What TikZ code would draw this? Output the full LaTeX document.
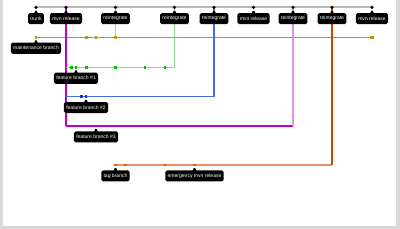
\documentclass[tikz,border=0pt]{standalone}
\usepackage{fontspec}
\setsansfont{Liberation Sans}
\usetikzlibrary{positioning, shapes.callouts}

\pgfdeclarelayer{bg}
\pgfsetlayers{bg,main}

\definecolor{maintcol}{RGB}{185,150,10}
\definecolor{tancol}{RGB}{215,195,140}
\definecolor{greencol}{RGB}{140,215,140}
\definecolor{greendot}{RGB}{0,190,0}
\definecolor{bluecol}{RGB}{70,110,225}
\definecolor{bluedot}{RGB}{30,50,200}
\definecolor{magcol}{RGB}{190,0,200}
\definecolor{pinkcol}{RGB}{215,150,220}
\definecolor{orangedark}{RGB}{200,70,0}
\definecolor{orangelight}{RGB}{225,145,100}
\definecolor{orangedot}{RGB}{210,100,20}

\begin{document}
\begin{tikzpicture}[
    x=0.03cm, y=-0.03cm,
    lbl/.style={rectangle callout, fill=black, text=white, rounded corners=1.5pt,
                inner xsep=2pt, inner ysep=0pt, minimum height=9.5pt,
                callout pointer width=3pt,
                font=\fontsize{4.3}{5}\selectfont\sffamily},
    tdot/.style={circle, fill=black, inner sep=0pt, minimum size=3pt},
    bdot/.style={rectangle, fill=#1, inner sep=0pt, minimum size=2.3pt},
    branch/.style={draw=#1, line width=1pt}
  ]
  % frame
  \begin{pgfonlayer}{bg}
    \fill[gray!30] (0,0) rectangle (400,229);
    \fill[white] (3,0) rectangle (396,225.5);
  \end{pgfonlayer}

  % trunk
  \node[tdot] (t1) at (36,7.3) {};
  \node[tdot] (t2) at (66,7.3) {};
  \node[tdot] (t3) at (115.5,7.3) {};
  \node[tdot] (t4) at (174.5,7.3) {};
  \node[tdot] (t5) at (214,7.3) {};
  \node[tdot] (t6) at (253.5,7.3) {};
  \node[tdot] (t7) at (293,7.3) {};
  \node[tdot] (t8) at (332,7.3) {};
  \node[tdot] (t9) at (372,7.3) {};

  % maintenance branch
  \node[bdot=maintcol] (m1) at (36,37.3) {};
  \node[bdot=maintcol] (m2) at (86.5,37.3) {};
  \node[bdot=maintcol] (m3) at (96,37.3) {};
  \node[bdot=maintcol] (m4) at (115.5,37.3) {};
  \node[bdot=maintcol, minimum size=3pt] (m5) at (372,37.3) {};

  % feature branch #1
  \node[bdot=greendot] (f1) at (71.7,67.3) {};
  \node[bdot=greendot] (f2) at (76,67.3) {};
  \node[bdot=greendot] (f3) at (86.5,67.3) {};
  \node[bdot=greendot] (f4) at (115.5,67.3) {};
  \node[bdot=greendot] (f5) at (145,67.3) {};
  \node[bdot=greendot] (f6) at (165,67.3) {};

  % feature branch #2
  \node[bdot=bluedot] (b1) at (81.5,96.7) {};
  \node[bdot=bluedot] (b2) at (86,96.7) {};

  % feature branch #3
  \node[bdot=magcol] (g1) at (91.7,126) {};
  \node[bdot=magcol] (g2) at (96,126) {};
  \node[bdot=magcol] (g3) at (155,126) {};
  \node[bdot=magcol] (g4) at (175,126) {};

  % tag branch
  \node[bdot=orangedot] (r1) at (115.5,165) {};
  \node[bdot=orangedot] (r2) at (125.5,165) {};
  \node[bdot=orangedot] (r3) at (165,165) {};
  \node[bdot=orangedot] (r4) at (194.5,165) {};

  % corners
  \coordinate (v1) at (66,67.3);
  \coordinate (v2) at (66,96.7);
  \coordinate (v3) at (66,126);
  \coordinate (c1) at (174.5,67.3);
  \coordinate (c2) at (214,96.7);
  \coordinate (c3) at (293,126);
  \coordinate (c4) at (332,165);

  % lines, kept under the dots
  \begin{pgfonlayer}{bg}
    \draw[gray!55, line width=1.4pt] (t1.center) -- (t2.center) -- (t3.center)
      -- (t4.center) -- (t5.center) -- (t6.center) -- (t7.center)
      -- (t8.center) -- (t9.center);
    \draw[branch=maintcol, line width=1.2pt] (m1.center) -- (m2.center)
      -- (m3.center) -- (m4.center) -- (m5.center);
    \draw[branch=tancol] (t3.center) -- (m4.center);
    \draw[branch=magcol] (t2.center) -- (v1) -- (v2) -- (v3);
    \draw[branch=greencol] (v1) -- (f1.center) -- (f2.center) -- (f3.center)
      -- (f4.center) -- (f5.center) -- (f6.center) -- (c1) -- (t4.center);
    \draw[branch=bluecol] (v2) -- (b1.center) -- (b2.center) -- (c2) -- (t5.center);
    \draw[branch=magcol] (v3) -- (g1.center) -- (g2.center) -- (g3.center)
      -- (g4.center) -- (c3);
    \draw[branch=pinkcol] (c3) -- (t7.center);
    \draw[branch=orangelight] (r1.center) -- (r2.center) -- (r3.center)
      -- (r4.center) -- (c4);
    \draw[branch=orangedark] (c4) -- (t8.center);
  \end{pgfonlayer}

  % labels
  \node[lbl, below=3pt of t1, callout absolute pointer={(t1.south)}] (l1) {trunk};
  \node[lbl, below=3pt of t2, callout absolute pointer={(t2.south)}] (l2) {mvn release};
  \node[lbl, below=3pt of t3, callout absolute pointer={(t3.south)}] (l3) {reintegrate};
  \node[lbl, below=3pt of t4, callout absolute pointer={(t4.south)}] (l4) {reintegrate};
  \node[lbl, below=3pt of t5, callout absolute pointer={(t5.south)}] (l5) {reintegrate};
  \node[lbl, below=3pt of t6, callout absolute pointer={(t6.south)}] (l6) {mvn release};
  \node[lbl, below=3pt of t7, callout absolute pointer={(t7.south)}] (l7) {reintegrate};
  \node[lbl, below=3pt of t8, callout absolute pointer={(t8.south)}] (l8) {reintegrate};
  \node[lbl, below=3pt of t9, callout absolute pointer={(t9.south)}] (l9) {mvn release};
  \node[lbl, below=3pt of m1, callout absolute pointer={(m1.south)}] (lm) {maintenance branch};
  \node[lbl, below=3pt of f2, callout absolute pointer={(f2.south)}] (lf) {feature branch \#1};
  \node[lbl, below=3pt of b2, callout absolute pointer={(b2.south)}] (lb) {feature branch \#2};
  \node[lbl, below=3pt of g2, callout absolute pointer={(g2.south)}] (lg) {feature branch \#3};
  \node[lbl, below=3pt of r1, callout absolute pointer={(r1.south)}] (lt) {tag branch};
  \node[lbl, below=3pt of r4, callout absolute pointer={(r4.south)}] (le) {emergency mvn release};
\end{tikzpicture}
\end{document}
